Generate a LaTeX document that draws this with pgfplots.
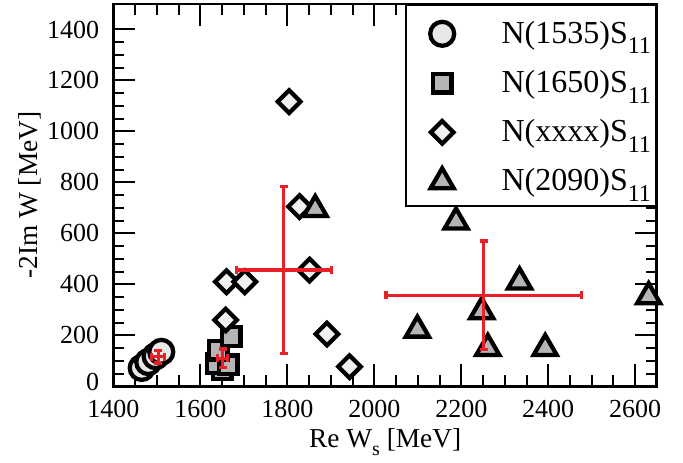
\documentclass[border=0pt]{standalone}
\usepackage{fontspec}
\setmainfont{Liberation Serif}
\usepackage{pgfplots}
\pgfplotsset{compat=1.18}
\definecolor{myred}{RGB}{232,32,40}
\newcommand{\lsub}[1]{\raisebox{-8pt}{\fontsize{18}{18}\selectfont #1}}
\begin{document}
\begin{tikzpicture}
\begin{axis}[
  name=ax,
  scale only axis,
  width=407.6pt, height=286.7pt,
  xmin=1400, xmax=2650, ymin=0, ymax=1500,
  xtick={1400,1600,...,2600}, ytick={0,200,...,1400},
  minor x tick num=3, minor y tick num=3,
  tick align=inside,
  major tick length=16.5pt, minor tick length=8.25pt,
  axis line style={line width=2.2pt},
  tick style={black, line width=1.5pt},
  /pgf/number format/assume math mode=true,
  /pgf/number format/1000 sep={},
  tick label style={font=\fontsize{19.5}{20}\selectfont, inner sep=0pt},
  xticklabel style={yshift=-10.5pt},
  yticklabel style={xshift=-10.5pt},
  yticklabel={\ifdim\tick pt<1pt\raisebox{6pt}{0}\else\pgfmathprintnumber{\tick}\fi},
  xlabel={Re W\raisebox{-6pt}{\fontsize{15}{15}\selectfont s} [MeV]},
  ylabel={-2Im W [MeV]},
  label style={font=\fontsize{20.5}{22}\selectfont},
  xlabel style={at={(axis description cs:0.5,-0.1596)}, anchor=base},
  ylabel style={at={(axis description cs:-0.1536,0.5)}, anchor=center},
  clip=false,
  clip marker paths=true,
  legend cell align=left,
  legend style={at={(1,1)}, anchor=north east, draw=black, line width=1.5pt,
    font=\fontsize{24}{24}\selectfont, inner xsep=3.75pt, inner ysep=1.5pt,
    row sep=0pt, column sep=0pt,
    nodes={inner sep=0pt, outer sep=0pt, text height=16pt, text depth=8pt}},
  legend image code/.code={\path (0pt,-12.25pt) (64.5pt,21.5pt);
    \draw[#1,only marks] plot coordinates {(21.55pt,3pt)};},
]
\addplot[only marks, line width=3.2pt, mark=*, mark size=9pt, mark options={draw=black, line width=3.2pt, fill=gray!18}]
  coordinates {(1465,72) (1480,95) (1497,118) (1510,135)};
\addplot[only marks, line width=3.2pt, mark=square*, mark size=7pt, mark options={draw=black, line width=3.2pt, fill=gray!58}]
  coordinates {(1650,65) (1637,90) (1664,84) (1641,142) (1671,195)};
\addplot[only marks, line width=3.2pt, mark=square*, mark size=6pt, mark options={rotate=45, draw=black, line width=3.2pt, fill=gray!12}]
  coordinates {(1660,410) (1702,410) (1658,260) (1804,1117) (1828,705) (1851,456) (1891,205) (1943,77)};
\addplot[only marks, line width=3.2pt, mark=triangle*, mark size=10pt, mark options={draw=black, line width=3.2pt, fill=gray!58}]
  coordinates {(1864,694) (2188,645) (2334,410) (2247,293) (2099,221) (2261,149) (2393,149) (2631,352)};
\addplot[draw=none, mark=none, forget plot,
  error bars/.cd, x dir=both, x explicit, y dir=both, y explicit,
  error bar style={line width=2.4pt, draw=myred},
  error mark options={rotate=90, draw=myred, mark size=3pt, line width=2.4pt}]
  coordinates {(1503,116) +- (15,25) (1651,110) +- (12,36) (1792,456) +- (109,327) (2252,357) +- (225,213)};
\legend{N(1535)S\lsub{11}, N(1650)S\lsub{11}, N(xxxx)S\lsub{11}, N(2090)S\lsub{11}}
\end{axis}
\pgfresetboundingbox
\path (ax.south west) ++(-85.1pt,-56.8pt) rectangle ++(512.25pt,346.5pt);
\end{tikzpicture}
\end{document}
